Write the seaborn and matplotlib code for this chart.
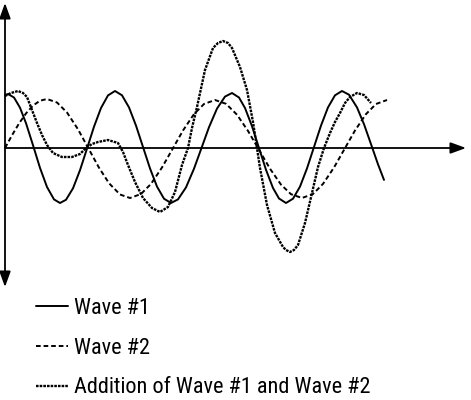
import os
import matplotlib
matplotlib.use("Agg")
import matplotlib.pyplot as plt
import pandas as pd
import seaborn as sns
from matplotlib import font_manager as fm

# ---- data (x = horizontal position, y = displacement) ----
wave1_x = [5, 8, 14, 20, 26, 33, 40, 47, 54, 60, 66, 73, 80, 87, 94, 101, 108, 115,
           122, 129, 136, 143, 150, 157, 164, 171, 178, 186, 194, 201, 209, 217, 225, 232,
           239, 245, 252, 259, 266, 273, 279, 286, 293, 300, 307, 314, 321, 328, 335, 342,
           349, 357, 364, 372, 378, 384]
wave1_y = [53, 54, 50.5, 40.3, 24.8, 2.8, -19.9, -39.0, -51.4, -55, -51.8, -40.3, -22.2, -0.6,
           21.3, 40.0, 52.6, 57, 52.7, 40.6, 22.4, 1, -20.4, -38.6, -50.7, -55, -51.4, -39.4,
           -20.7, -1.4, 20.8, 39.4, 51.4, 55, 50.5, 40.0, 21.8, 0, -21.8, -40.0, -50.5, -55,
           -50.7, -38.6, -20.4, 1, 22.4, 40.6, 52.7, 57, 53.3, 40.6, 23.8, 1, -16.3, -31.9]

wave2_x = [5, 12, 19, 26, 33, 40, 47, 57, 67, 78, 88, 99, 109, 120, 130, 141, 151, 162, 172,
           183, 194, 204, 215, 226, 237, 248, 259, 270, 281, 291, 302, 313, 323, 334, 344,
           355, 366, 376, 387]
wave2_y = [0, 12.7, 24.5, 34.6, 42.4, 47.3, 49, 45.5, 35.5, 18.7, 0.4, -19.7, -35.2, -46.5,
           -50, -46.0, -35.9, -19.5, -1.9, 17.5, 33.9, 44.0, 48, 44.2, 33.3, 17.1, -1.8,
           -20.7, -36.6, -46.2, -50, -46.0, -35.9, -19.5, -1.9, 17.5, 33.9, 44.0, 48]

sum_x = [5, 11, 18, 23, 27, 32, 37, 42, 47, 53, 62, 72, 80, 86, 92, 98, 108, 118, 123, 128,
         135, 143, 152, 160, 168, 175, 182, 188, 192, 197, 205, 213, 218, 223, 228, 232, 240,
         247, 253, 257, 260, 267, 275, 283, 286, 290, 294, 298, 305, 312, 318, 324, 330, 335,
         340, 345, 350, 357, 364, 371]
sum_y = [52, 55, 57, 55, 51, 38, 25, 13, 3, -5, -9, -9, -6, 0, 4, 6, 8, 5, -4, -17,
         -34, -50, -60, -64, -59, -44, -17, 0, 20, 41, 78, 100, 105, 107, 105, 100, 81,
         58, 26, 0, -20, -57, -85, -99, -102, -104, -102, -97, -75, -45, -19, 0, 15, 26,
         35, 45, 51, 55, 53, 45]

labels = ["Wave #1", "Wave #2", "Addition of Wave #1 and Wave #2"]

# ---- style ----
sns.set_theme(style="white")
plt.rcParams["font.family"] = ["Liberation Sans", "DejaVu Sans"]


def pick_narrow_font():
    best, best_score = None, -1
    for f in fm.fontManager.ttflist:
        fn = os.path.basename(f.fname).lower()
        if not ("narrow" in fn or "condensed" in fn):
            continue
        if any(k in fn for k in ("bold", "italic", "light", "thin", "black", "medium",
                                 "semi", "extra", "ultra", "mono", "serif", "display")):
            continue
        score = 1
        if "liberationsansnarrow" in fn:
            score = 5
        elif "notosans-condensed" in fn:
            score = 4
        elif "roboto" in fn:
            score = 3
        if score > best_score:
            best, best_score = f.fname, score
    return best


narrow = pick_narrow_font()

fig = plt.figure(figsize=(4.71, 4.00), dpi=100)
ax = fig.add_axes([0, 0, 1, 1])
ax.set_xlim(0, 471)
ax.set_ylim(-252, 148)
ax.set_axis_off()

LW = 1.4
df1 = pd.DataFrame({"x": wave1_x, "y": wave1_y})
df2 = pd.DataFrame({"x": wave2_x, "y": wave2_y})
df3 = pd.DataFrame({"x": sum_x, "y": sum_y})

sns.lineplot(data=df1, x="x", y="y", ax=ax, color="black", lw=LW,
             estimator=None, sort=False, label=labels[0])
sns.lineplot(data=df2, x="x", y="y", ax=ax, color="black", lw=LW,
             linestyle=(0, (2.4, 1.5)), estimator=None, sort=False, label=labels[1])
sns.lineplot(data=df3, x="x", y="y", ax=ax, color="black", lw=1.7,
             linestyle=(0, (1.1, 0.45)), estimator=None, sort=False, label=labels[2])
for ln in ax.lines:
    ln.set_dash_capstyle("butt")

# axes with arrowheads
arrow = dict(arrowstyle="<|-|>,head_length=0.55,head_width=0.2", color="black",
             lw=1.3, mutation_scale=17, shrinkA=0, shrinkB=0)
ax.annotate("", xy=(5, 145), xytext=(5, -139), arrowprops=arrow)
arrow2 = dict(arrow, arrowstyle="-|>,head_length=0.55,head_width=0.2")
ax.annotate("", xy=(466, 0), xytext=(5, 0), arrowprops=arrow2)


def make_prop(size):
    if narrow:
        return fm.FontProperties(fname=narrow, size=size)
    return fm.FontProperties(family=["Liberation Sans", "DejaVu Sans"], size=size)


def add_legend(fs):
    s_px = fs * 100 / 72.0
    top = 306 - 0.37 * s_px
    return ax.legend(loc="upper left", bbox_to_anchor=(36 / 471, 1 - top / 400),
                     bbox_transform=fig.transFigure, frameon=False, prop=make_prop(fs),
                     handlelength=23.0 / fs, handletextpad=4.3 / fs,
                     labelspacing=41.0 / s_px - 1.0, borderpad=0, borderaxespad=0)


fs = 15.5
leg = add_legend(fs)
fig.canvas.draw()
w = leg.get_texts()[2].get_window_extent(fig.canvas.get_renderer()).width
fs = min(fs * 296.0 / w, 16.0)
leg.remove()
leg = add_legend(fs)
for t in leg.get_texts():
    t.set_color("black")

fig.savefig("out.png", dpi=100)
